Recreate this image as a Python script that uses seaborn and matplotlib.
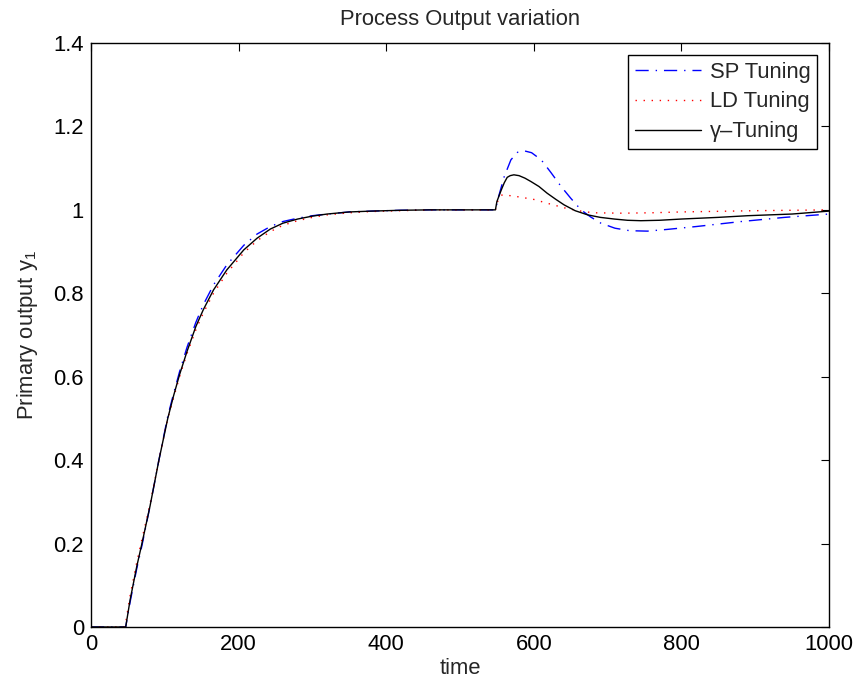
import matplotlib
matplotlib.use("Agg")
import matplotlib.pyplot as plt
import seaborn as sns
from matplotlib.ticker import FuncFormatter

# ---- data ----
gamma_t = [0, 45, 47, 53, 62, 69, 80, 92, 104, 112, 120, 130, 142, 152, 166, 184, 207, 225, 243, 260,
           280, 300, 320, 350, 380, 420, 460, 500, 548, 550, 556, 560, 564, 568, 573, 580, 588, 596,
           607, 618, 630, 641, 656, 673, 690, 709, 727, 745, 770, 800, 850, 890, 950, 1000]
gamma_y = [0, 0, 0, 0.065, 0.145, 0.2, 0.29, 0.40, 0.50, 0.555, 0.605, 0.66, 0.72, 0.76, 0.808, 0.856,
           0.904, 0.932, 0.954, 0.968, 0.978, 0.985, 0.99, 0.995, 0.997, 0.999, 1.0, 1.0, 1.0, 1.02,
           1.048, 1.065, 1.078, 1.082, 1.084, 1.082, 1.076, 1.068, 1.056, 1.040, 1.025, 1.012, 0.998,
           0.988, 0.982, 0.978, 0.975, 0.974, 0.975, 0.978, 0.982, 0.986, 0.990, 0.997]

sp_t = [0, 45, 47, 53, 62, 69, 80, 92, 104, 112, 120, 130, 142, 152, 166, 184, 207, 225, 243, 260,
        280, 300, 320, 350, 380, 420, 460, 548, 552, 560, 569, 578, 587, 597, 610, 623, 637, 650,
        664, 677, 691, 710, 730, 754, 780, 820, 881, 940, 1000]
sp_y = [0, 0, 0, 0.06, 0.14, 0.195, 0.29, 0.40, 0.505, 0.56, 0.612, 0.67, 0.73, 0.772, 0.82, 0.868,
        0.915, 0.942, 0.96, 0.972, 0.98, 0.986, 0.99, 0.995, 0.997, 0.999, 1.0, 1.0, 1.03, 1.08,
        1.12, 1.138, 1.1415, 1.137, 1.12, 1.09, 1.056, 1.028, 1.0, 0.983, 0.968, 0.956, 0.95,
        0.949, 0.953, 0.96, 0.972, 0.982, 0.99]

ld_t = [0, 45, 47, 53, 62, 69, 80, 92, 104, 112, 120, 130, 142, 152, 166, 184, 207, 225, 243, 260,
        280, 300, 320, 350, 380, 420, 460, 548, 551, 555, 560, 580, 600, 620, 641, 660, 680, 720,
        760, 800, 900, 1000]
ld_y = [0, 0, 0.01, 0.075, 0.155, 0.21, 0.295, 0.40, 0.50, 0.55, 0.60, 0.655, 0.712, 0.752, 0.80,
        0.848, 0.897, 0.926, 0.948, 0.963, 0.974, 0.982, 0.988, 0.993, 0.996, 0.998, 1.0, 1.0, 1.02,
        1.035, 1.036, 1.031, 1.025, 1.015, 1.005, 0.998, 0.993, 0.992, 0.993, 0.995, 0.998, 1.0]

labels = ["SP Tuning", "LD Tuning", "\u03b3\u2013Tuning"]
x_ticks = [0, 200, 400, 600, 800, 1000]
y_ticks = [0, 0.2, 0.4, 0.6, 0.8, 1.0, 1.2, 1.4]

FS = 15.8

sns.set_style("white")
plt.rcParams["font.family"] = ["Liberation Sans", "DejaVu Sans"]
plt.rcParams["mathtext.fontset"] = "custom"
plt.rcParams["mathtext.rm"] = "Liberation Sans"
plt.rcParams["mathtext.it"] = "Liberation Sans"

fig = plt.figure(figsize=(8.61, 6.87), dpi=100)
ax = fig.add_axes([91 / 861, 1 - 627 / 687, (829 - 91) / 861, (627 - 43) / 687])

sns.lineplot(x=sp_t, y=sp_y, ax=ax, color="#0000ff", lw=1.0, linestyle=(0, (9.5, 5, 1, 5)),
             label=labels[0], sort=False, estimator=None)
sns.lineplot(x=ld_t, y=ld_y, ax=ax, color="#ff0000", lw=1.0, linestyle=(0, (1, 4.8)),
             label=labels[1], sort=False, estimator=None)
sns.lineplot(x=gamma_t, y=gamma_y, ax=ax, color="black", lw=1.0, linestyle="-",
             label=labels[2], sort=False, estimator=None)

ax.set_xlim(0, 1000)
ax.set_ylim(0, 1.4)
ax.set_xticks(x_ticks)
ax.set_yticks(y_ticks)
ax.yaxis.set_major_formatter(FuncFormatter(lambda v, p: f"{v:g}"))
ax.tick_params(direction="in", length=5.8, width=0.8, top=True, right=True, labelsize=FS,
               colors="black", pad=5)
for s in ax.spines.values():
    s.set_visible(True)
    s.set_color("black")
    s.set_linewidth(1.0)

ax.set_title("Process Output variation", fontsize=FS, pad=13)
ax.set_xlabel("time", fontsize=FS, labelpad=2)
ax.set_ylabel("Primary output y$_1$", fontsize=FS, labelpad=10)

leg = ax.legend(loc="upper right", fontsize=FS, frameon=True, fancybox=False, framealpha=1,
                edgecolor="black", handlelength=3.0, handletextpad=0.4, borderpad=0.3,
                labelspacing=0.4, borderaxespad=0.55)
leg.get_frame().set_linewidth(1.0)

fig.savefig("out.png", dpi=100)
